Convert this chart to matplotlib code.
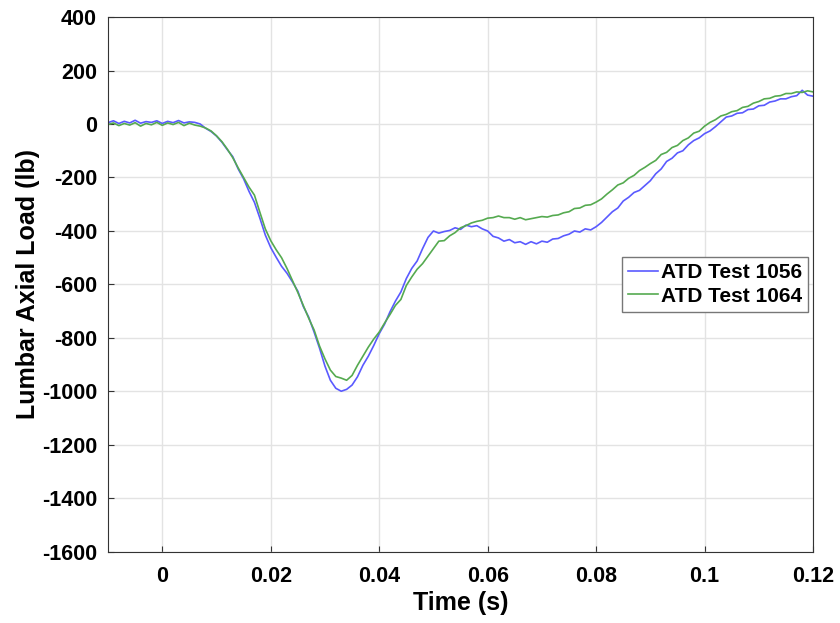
import matplotlib
matplotlib.use("Agg")
import matplotlib.pyplot as plt
import numpy as np

plt.rcParams["axes.unicode_minus"] = False

# time base, 1 ms steps from -10 ms to 120 ms
time_ms = np.arange(-10, 121)

# ATD Test 1056 (lb) at each ms
load_1056 = [
    5, 12, 2, 10, 4, 14, 3, 9, 6, 12,
    2, 10, 5, 13, 4, 8, 6, 0, -16, -28,
    -45, -68, -96, -122, -168, -205, -252, -293, -352, -415,
    -462, -498, -532, -558, -590, -625, -682, -722, -778, -838,
    -905, -958, -988, -999, -992, -976, -945, -902, -868, -828,
    -784, -748, -702, -662, -628, -578, -540, -512, -466, -424,
    -400, -408, -402, -398, -388, -394, -378, -384, -380, -392,
    -400, -420, -426, -438, -432, -444, -440, -450, -440, -448,
    -438, -442, -430, -428, -418, -412, -400, -404, -392, -396,
    -384, -368, -348, -328, -314, -288, -274, -256, -248, -230,
    -212, -186, -168, -140, -128, -108, -100, -78, -62, -52,
    -36, -26, -10, 8, 26, 30, 40, 42, 54, 56,
    68, 70, 82, 86, 94, 94, 102, 106, 126, 108,
    104,
]

# ATD Test 1064 (lb)
load_1064 = [
    -2, 4, -6, 2, -4, 5, -8, 2, -3, 6,
    -5, 4, -2, 6, -6, 3, -4, -8, -15, -26,
    -44, -66, -94, -126, -164, -200, -236, -266, -330, -392,
    -436, -470, -500, -540, -585, -630, -678, -726, -770, -830,
    -878, -920, -944, -950, -958, -940, -902, -868, -834, -804,
    -778, -744, -712, -678, -656, -604, -572, -543, -522, -494,
    -466, -438, -436, -418, -406, -388, -380, -370, -364, -360,
    -352, -350, -344, -350, -350, -356, -350, -358, -354, -350,
    -346, -348, -342, -340, -332, -328, -316, -314, -304, -302,
    -292, -280, -262, -246, -228, -220, -203, -192, -174, -162,
    -148, -136, -114, -106, -88, -80, -62, -52, -34, -27,
    -8, 6, 16, 30, 36, 46, 50, 62, 66, 78,
    84, 94, 96, 104, 106, 114, 114, 120, 118, 124,
    120,
]

time_s = time_ms / 1000.0

fam = ["Liberation Sans", "DejaVu Sans"]

fig = plt.figure(figsize=(8.4, 6.23), dpi=100)
ax = fig.add_axes([0.1286, 0.114, 0.8393, 0.8587])

ax.plot(time_s, load_1056, color="#5a5aff", lw=1.2, label="ATD Test 1056")
ax.plot(time_s, load_1064, color="#55aa50", lw=1.2, label="ATD Test 1064")

ax.set_xlim(-0.01, 0.12)
ax.set_ylim(-1600, 400)
ax.set_xticks([0, 0.02, 0.04, 0.06, 0.08, 0.1, 0.12])
ax.set_xticklabels(["0", "0.02", "0.04", "0.06", "0.08", "0.1", "0.12"])
ax.set_yticks(np.arange(-1600, 401, 200))

for lab in ax.get_xticklabels() + ax.get_yticklabels():
    lab.set_family(fam)
    lab.set_fontweight("bold")
    lab.set_fontsize(15.5)
ax.tick_params(axis="both", direction="in", length=4, color="#333333")
ax.tick_params(axis="x", pad=10)
ax.tick_params(axis="y", pad=8)

ax.grid(True, color="#e3e3e3", lw=1)
ax.set_axisbelow(True)
for s in ax.spines.values():
    s.set_color("#333333")
    s.set_linewidth(0.8)

ax.set_xlabel("Time (s)", family=fam, fontweight="bold", fontsize=18, labelpad=3)
ax.set_ylabel("Lumbar Axial Load (lb)", family=fam, fontweight="bold",
              fontsize=18, labelpad=1)

leg = ax.legend(loc="center right", bbox_to_anchor=(0.993, 0.5),
                prop={"family": fam, "weight": "bold", "size": 15},
                fancybox=False, framealpha=1, edgecolor="#777777",
                handlelength=1.4, handletextpad=0.15, borderpad=0.3, labelspacing=0.2,
                borderaxespad=0.0)
leg.get_frame().set_linewidth(1.0)

fig.savefig("out.png", dpi=100)
